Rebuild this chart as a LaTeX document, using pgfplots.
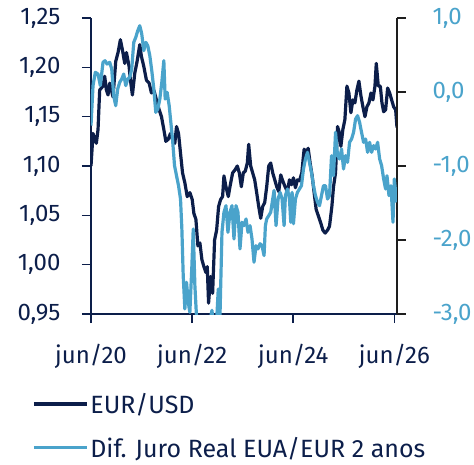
\documentclass[border=0pt]{standalone}
\usepackage{pgfplots}
\pgfplotsset{compat=1.18}
\usepackage{fontspec}
\setmainfont{Fira Sans}
\definecolor{navy}{HTML}{0C1E4A}
\definecolor{lblue}{HTML}{4AA3CB}
\definecolor{raxis}{HTML}{1E1E1E}
\begin{document}
\begin{tikzpicture}
\pgfplotsset{every axis/.append style={font=\fontsize{24}{28}\selectfont}}
\begin{axis}[
  at={(0,0)}, anchor=south west,
  scale only axis, width=306pt, height=296pt,
  xmin=0, xmax=72.64, ymin=0.95, ymax=1.25,
  axis x line*=bottom, axis y line*=left,
  axis line style={navy, line width=1.6pt},
  every tick/.style={line width=1.6pt},
  tick align=outside, major tick length=9pt,
  xtick={0,24,48,72}, xticklabels={jun/20,jun/22,jun/24,jun/26},
  xtick style={navy}, ytick style={navy},
  ytick={0.95,1.00,1.05,1.10,1.15,1.20,1.25},
  yticklabel style={/pgf/number format/use comma, /pgf/number format/fixed, /pgf/number format/fixed zerofill, /pgf/number format/precision=2, /pgf/number format/assume math mode=true, xshift=-18pt},
  ticklabel style={text=navy},
  xticklabel style={yshift=-18pt},
  legend style={draw=none, fill=none, at={(0,0)}, anchor=north west, xshift=-62pt, yshift=-75pt,
    font=\fontsize{25}{29}\selectfont, text=navy, row sep=18pt},
  legend cell align=left,
  legend image code/.code={\draw[#1, line width=3.2pt] (0pt,0pt) -- (53pt,0pt);},
]
\addplot[navy, line width=3.2pt, line join=round] table {
0 1.100
0.48 1.133
1.27 1.123
1.67 1.137
2.06 1.177
2.85 1.181
3.25 1.191
3.65 1.177
4.04 1.172
4.44 1.184
5.23 1.170
5.87 1.206
6.42 1.215
6.98 1.228
7.45 1.218
8.01 1.204
8.41 1.215
9.04 1.201
9.36 1.187
9.83 1.172
10.39 1.194
10.94 1.206
11.58 1.223
11.97 1.211
12.53 1.201
13.16 1.187
13.80 1.184
14.35 1.174
14.91 1.177
15.54 1.167
16.18 1.157
16.73 1.150
17.29 1.137
17.76 1.125
18.32 1.127
18.87 1.133
19.35 1.127
19.90 1.123
20.30 1.140
20.78 1.133
21.25 1.113
21.73 1.093
22.28 1.083
22.84 1.069
23.47 1.073
24.03 1.066
24.42 1.052
24.90 1.046
25.38 1.019
25.85 1.022
26.33 1.005
26.80 0.998
27.28 0.992
27.60 0.998
27.91 0.961
28.39 0.988
28.87 0.971
29.34 1.025
29.82 1.035
30.29 1.059
30.77 1.066
31.24 1.069
31.56 1.090
32.04 1.079
32.59 1.069
32.99 1.079
33.62 1.093
34.18 1.096
34.73 1.100
35.21 1.093
35.69 1.079
36.16 1.093
36.64 1.095
37.11 1.103
37.43 1.122
37.91 1.100
38.38 1.093
38.86 1.086
39.33 1.073
39.81 1.059
40.29 1.047
40.76 1.059
41.24 1.063
41.71 1.079
42.19 1.100
42.66 1.103
43.14 1.093
43.62 1.086
44.09 1.079
44.57 1.074
45.04 1.091
45.52 1.085
46.07 1.079
46.63 1.074
47.11 1.086
47.58 1.081
48.06 1.088
48.53 1.078
49.01 1.086
49.48 1.085
50.04 1.093
50.59 1.117
51.07 1.113
51.55 1.118
52.02 1.103
52.50 1.090
52.97 1.073
53.45 1.056
54.01 1.049
54.56 1.042
55.04 1.035
55.59 1.032
56.15 1.035
56.62 1.039
57.18 1.059
57.57 1.079
58.05 1.093
58.53 1.140
59.00 1.133
59.32 1.120
59.79 1.137
60.27 1.147
60.75 1.181
61.22 1.174
61.70 1.154
62.17 1.167
62.65 1.164
63.12 1.177
63.60 1.186
64.08 1.171
64.55 1.160
65.03 1.150
65.50 1.160
65.98 1.164
66.46 1.174
66.93 1.167
67.41 1.181
67.72 1.204
68.20 1.181
68.68 1.181
69.07 1.164
69.47 1.155
69.94 1.157
70.42 1.179
70.90 1.174
71.37 1.167
71.85 1.160
72.32 1.157
72.64 1.139
};
\addlegendentry{EUR/USD}
\addlegendimage{lblue, line width=3.2pt}
\addlegendentry{Dif. Juro Real EUA/EUR 2 anos}
\end{axis}
\begin{axis}[
  at={(0,0)}, anchor=south west,
  scale only axis, width=306pt, height=296pt,
  xmin=0, xmax=72.64, ymin=-3, ymax=1,
  axis x line=none, axis y line*=right,
  axis line style={raxis, line width=1.6pt},
  every tick/.style={line width=1.6pt, raxis},
  tick align=outside, major tick length=9pt,
  ytick={-3,-2,-1,0,1},
  yticklabel style={/pgf/number format/use comma, /pgf/number format/fixed, /pgf/number format/fixed zerofill, /pgf/number format/precision=1, /pgf/number format/assume math mode=true, text=lblue, xshift=23pt},
]
\addplot[lblue, line width=3.2pt, line join=round] table {
0 -0.455
0.48 0.086
1.03 0.266
1.67 0.243
2.22 0.086
2.85 0.401
3.33 0.423
3.81 0.378
4.44 0.401
4.92 0.311
5.39 -0.050
5.87 -0.185
6.34 0.041
6.82 0.131
7.30 0.176
7.77 0.243
8.25 0.086
8.72 0.176
9.20 0.198
9.67 0.311
10.15 0.671
10.63 0.739
11.10 0.829
11.58 0.896
12.05 0.784
12.53 0.559
13.01 0.671
13.48 0.626
13.96 0.491
14.43 0.288
14.91 0.041
15.38 -0.275
15.86 -0.230
16.34 -0.095
16.81 0.131
17.29 0.423
17.61 -0.095
18.08 -0.005
18.56 -0.185
19.03 -0.455
19.35 -0.635
19.83 -0.995
20.30 -1.131
20.78 -1.266
21.25 -1.446
21.57 -1.851
21.89 -2.482
22.28 -2.932
22.68 -2.572
23.08 -2.842
23.47 -2.977
23.95 -2.347
24.27 -1.851
24.66 -2.617
25.06 -3.05
25.46 -3.3
26.25 -3.5
27.44 -3.4
28.23 -3.1
28.71 -2.95
29.18 -3.2
29.82 -3.1
30.21 -2.662
30.61 -3.05
31.09 -1.896
31.56 -1.626
32.04 -1.536
32.51 -1.896
32.99 -1.626
33.47 -1.536
33.94 -1.986
34.42 -1.536
34.89 -1.626
35.37 -2.12
35.85 -1.76
36.32 -1.806
36.80 -1.716
37.27 -1.896
37.75 -1.806
38.22 -1.986
38.70 -2.30
39.18 -2.077
39.65 -2.12
40.13 -2.05
40.60 -2.077
41.08 -2.21
41.40 -1.806
41.71 -1.716
42.19 -1.671
42.66 -1.626
43.14 -1.446
43.46 -1.33
43.93 -1.806
44.41 -1.446
44.89 -1.356
45.36 -1.446
45.84 -1.806
46.15 -1.40
46.63 -1.311
47.11 -1.446
47.42 -1.76
47.74 -1.356
48.06 -1.78
48.53 -1.446
49.01 -1.356
49.48 -1.311
49.96 -1.266
50.44 -1.04
50.91 -0.905
51.39 -0.815
51.86 -0.95
52.34 -1.086
52.82 -1.266
53.29 -1.40
53.77 -1.49
54.24 -1.536
54.72 -1.40
55.19 -1.266
55.67 -1.266
56.15 -1.446
56.62 -1.40
57.10 -0.86
57.57 -1.131
58.05 -0.545
58.53 -0.86
59.00 -0.905
59.48 -0.77
59.95 -1.04
60.43 -0.86
60.90 -0.95
61.38 -0.68
61.86 -0.635
62.33 -0.545
62.81 -0.365
63.28 -0.32
63.76 -0.41
64.23 -0.545
64.71 -0.68
65.19 -0.635
65.66 -0.815
66.14 -0.68
66.61 -0.815
67.09 -0.725
67.57 -0.77
68.04 -0.68
68.52 -0.905
68.99 -0.995
69.47 -1.176
69.94 -1.311
70.26 -1.131
70.74 -1.40
71.21 -1.266
71.69 -1.76
72.01 -1.176
72.48 -1.446
72.64 -1.49
};
\end{axis}
\pgfresetboundingbox
\path (-91pt,-150pt) rectangle (383pt,314pt);
\end{tikzpicture}
\end{document}
